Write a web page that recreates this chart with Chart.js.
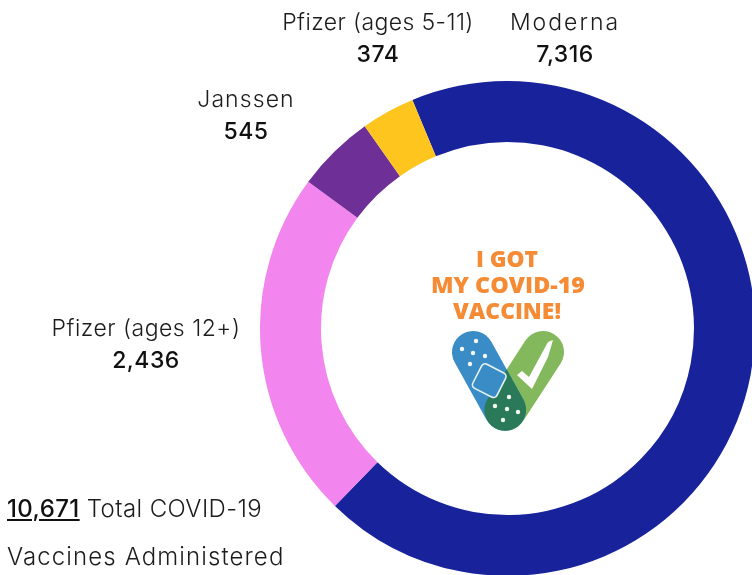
<!DOCTYPE html>
<html>
<head>
<meta charset="utf-8">
<title>COVID-19 vaccines administered</title>
<script src="https://cdn.jsdelivr.net/npm/chart.js@4"></script>
<style>
  html, body { margin: 0; padding: 0; background: #fff; }
  body { width: 752px; height: 575px; overflow: hidden; position: relative; font-family: Inter, sans-serif; color: #1c1c1c; }
  #donut { position: absolute; left: 260px; top: 81px; }
  #logo { position: absolute; left: 0; top: 0; filter: blur(0.4px); }
  .label { position: absolute; transform: translateX(-50%); text-align: center; white-space: nowrap; font-size: 23px; font-weight: 300; line-height: 32px; }
  .label b { display: block; font-weight: 500; color: #111; letter-spacing: 0.5px; }
  .total { position: absolute; left: 7px; white-space: nowrap; font-size: 24px; font-weight: 300; line-height: 32px; }
  .total u { font-weight: 500; color: #111; }
</style>
</head>
<body>
<canvas id="donut" width="495" height="495"></canvas>

<svg id="logo" width="752" height="575" viewBox="0 0 752 575">
  <defs>
    <clipPath id="greenPill"><rect x="522" y="331" width="42" height="111" rx="21" transform="rotate(33 543 352)"/></clipPath>
  </defs>
  <g font-family="'Open Sans', sans-serif" font-weight="800" font-size="22" fill="#f58b35" text-anchor="middle">
    <text x="507" y="267" textLength="62" lengthAdjust="spacingAndGlyphs">I GOT</text>
    <text x="508" y="293" textLength="154" lengthAdjust="spacingAndGlyphs">MY COVID-19</text>
    <text x="507" y="319" textLength="108" lengthAdjust="spacingAndGlyphs">VACCINE!</text>
  </g>
  <rect x="522" y="331" width="42" height="111" rx="21" transform="rotate(33 543 352)" fill="#84b85c"/>
  <rect x="452" y="331" width="42" height="108" rx="21" transform="rotate(-29 473 352)" fill="#3a8cc6"/>
  <g clip-path="url(#greenPill)">
    <rect x="452" y="331" width="42" height="108" rx="21" transform="rotate(-29 473 352)" fill="#2a7a5a"/>
  </g>
  <rect x="476" y="367" width="27" height="27" rx="4" transform="rotate(27 489 380)" fill="#3a8cc6" stroke="#e6f1f4" stroke-width="1.6"/>
  <polygon points="517,375 522,371 529,377 548,342 553,340 548,357 532,389" fill="#fff"/>
  <g fill="#f3f7ee">
    <circle cx="462" cy="349" r="2.2"/><circle cx="476" cy="341" r="2.2"/><circle cx="473" cy="353" r="2.2"/>
    <circle cx="485" cy="356" r="2.2"/><circle cx="470" cy="364" r="2.2"/>
    <circle cx="509" cy="397" r="2.2"/><circle cx="495" cy="406" r="2.2"/><circle cx="507" cy="409" r="2.2"/>
    <circle cx="518" cy="412" r="2.2"/><circle cx="503" cy="420" r="2.2"/>
  </g>
</svg>

<script>
// Vaccine doses by manufacturer
const categories = ['Moderna', 'Pfizer (ages 12+)', 'Janssen', 'Pfizer (ages 5-11)'];
const doses = [7316, 2436, 545, 374];
const sliceColors = ['#18229b', '#f285ee', '#6e2f96', '#fdc51e'];
const totalDoses = '10,671';

// where each label is centred on the page, and the tracking to match its width
const labelSpots = [[565, 6], [146, 312], [246, 83], [378, 6]];
const labelTracking = [2, 0.5, 1.1, 0.4];

categories.forEach((name, i) => {
  const div = document.createElement('div');
  div.className = 'label';
  div.style.left = labelSpots[i][0] + 'px';
  div.style.top = labelSpots[i][1] + 'px';
  div.innerHTML = `<span style="letter-spacing:${labelTracking[i]}px">${name}</span><b>${doses[i].toLocaleString('en-US')}</b>`;
  document.body.appendChild(div);
});

const line1 = document.createElement('div');
line1.className = 'total';
line1.style.top = '493px';
line1.style.letterSpacing = '0.4px';
line1.innerHTML = `<u>${totalDoses}</u> Total COVID-19`;
document.body.appendChild(line1);

const line2 = document.createElement('div');
line2.className = 'total';
line2.style.top = '541px';
line2.style.letterSpacing = '1.1px';
line2.textContent = 'Vaccines Administered';
document.body.appendChild(line2);

new Chart(document.getElementById('donut'), {
  type: 'doughnut',
  data: {
    labels: categories,
    datasets: [{ data: doses, backgroundColor: sliceColors, borderWidth: 0 }],
  },
  options: {
    responsive: false,
    animation: false,
    cutout: '75.35%',
    rotation: -22.6,
    layout: { padding: 0 },
    plugins: {
      legend: { display: false },
      tooltip: { enabled: false },
    },
  },
});
</script>
</body>
</html>
